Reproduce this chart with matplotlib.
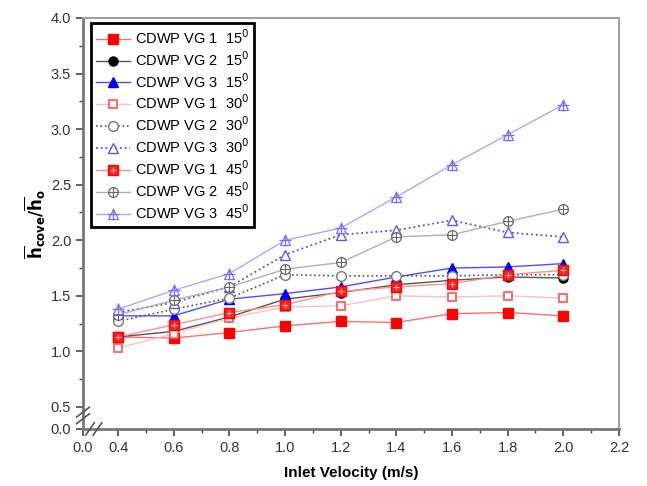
import numpy as np
import matplotlib

matplotlib.use("Agg")
import matplotlib.pyplot as plt

plt.rcParams["font.family"] = ["Liberation Sans", "DejaVu Sans"]

velocity = [0.4, 0.6, 0.8, 1.0, 1.2, 1.4, 1.6, 1.8, 2.0]

vg1_15 = [1.13, 1.12, 1.17, 1.23, 1.27, 1.26, 1.34, 1.35, 1.32]
vg2_15 = [1.13, 1.18, 1.31, 1.47, 1.53, 1.60, 1.64, 1.67, 1.66]
vg3_15 = [1.32, 1.32, 1.47, 1.52, 1.58, 1.67, 1.75, 1.76, 1.79]
vg1_30 = [1.03, 1.16, 1.30, 1.40, 1.41, 1.50, 1.49, 1.50, 1.48]
vg2_30 = [1.27, 1.38, 1.48, 1.69, 1.68, 1.68, 1.68, 1.69, 1.69]
vg3_30 = [1.35, 1.44, 1.58, 1.87, 2.05, 2.09, 2.18, 2.07, 2.03]
vg1_45 = [1.13, 1.24, 1.35, 1.42, 1.54, 1.58, 1.61, 1.69, 1.73]
vg2_45 = [1.33, 1.46, 1.58, 1.74, 1.80, 2.03, 2.05, 2.17, 2.28]
vg3_45 = [1.38, 1.55, 1.70, 2.00, 2.11, 2.39, 2.68, 2.95, 3.22]

labels = [
    "CDWP VG 1  15$^0$", "CDWP VG 2  15$^0$", "CDWP VG 3  15$^0$",
    "CDWP VG 1  30$^0$", "CDWP VG 2  30$^0$", "CDWP VG 3  30$^0$",
    "CDWP VG 1  45$^0$", "CDWP VG 2  45$^0$", "CDWP VG 3  45$^0$",
]

x_ticks = [0.0, 0.4, 0.6, 0.8, 1.0, 1.2, 1.4, 1.6, 1.8, 2.0, 2.2]
y_ticks = [0.0, 0.5, 1.0, 1.5, 2.0, 2.5, 3.0, 3.5, 4.0]


# broken axes: the 0..0.4 (x) and 0..0.5 (y) parts are squeezed
def fx(x):
    x = np.asarray(x, dtype=float)
    return np.where(x < 0.4, x * 0.315, x - 0.274)


def ix(u):
    u = np.asarray(u, dtype=float)
    return np.where(u < 0.126, u / 0.315, u + 0.274)


def fy(y):
    y = np.asarray(y, dtype=float)
    return np.where(y < 0.5, y * 0.396, y - 0.302)


def iy(u):
    u = np.asarray(u, dtype=float)
    return np.where(u < 0.198, u / 0.396, u + 0.302)


fig = plt.figure(figsize=(6.47, 4.86), dpi=100)
ax = fig.add_axes([0.1283, 0.1173, 0.8284, 0.8457])
ax.set_xscale("function", functions=(fx, ix))
ax.set_yscale("function", functions=(fy, iy))

ms = 6.5
handles = []

h, = ax.plot(velocity, vg1_15, "-", color="#ff6f6f", lw=1.0, marker="s", ms=ms,
             mfc="#ff0000", mec="#ff0000", zorder=3)
handles.append(h)
h, = ax.plot(velocity, vg2_15, "-", color="#555555", lw=1.0, marker="o", ms=ms,
             mfc="black", mec="black", zorder=3)
handles.append(h)
h, = ax.plot(velocity, vg3_15, "-", color="#4d4dff", lw=1.0, marker="^", ms=ms + 0.5,
             mfc="#0000ff", mec="#0000ff", zorder=3)
handles.append(h)
h, = ax.plot(velocity, vg1_30, "-", color="#ffc0c0", lw=1.0, marker="s", ms=ms - 0.5,
             mfc="white", mec="#ff6060", mew=1.3, zorder=3)
handles.append(h)
h, = ax.plot(velocity, vg2_30, ":", color="#555555", lw=1.2, marker="o", ms=ms + 0.5,
             mfc="white", mec="#777777", mew=1.0, zorder=3)
handles.append(h)
h, = ax.plot(velocity, vg3_30, ":", color="#4d4dff", lw=1.3, marker="^", ms=ms + 1,
             mfc="white", mec="#5a5aff", mew=1.0, zorder=3)
handles.append(h)

h1, = ax.plot(velocity, vg1_45, "-", color="#ff9090", lw=1.0, marker="s", ms=ms,
              mfc="#ff2020", mec="#ff0000", zorder=4)
h2, = ax.plot(velocity, vg1_45, "none", marker="+", ms=ms - 2.5, mec="#ffb0b0", mew=0.8, zorder=5)
handles.append((h1, h2))
h1, = ax.plot(velocity, vg2_45, "-", color="#b0b0b0", lw=1.0, marker="o", ms=ms + 0.5,
              mfc="white", mec="#666666", mew=0.9, zorder=3)
h2, = ax.plot(velocity, vg2_45, "none", marker="+", ms=ms + 0.5, mec="#666666", mew=0.8, zorder=3)
handles.append((h1, h2))
h1, = ax.plot(velocity, vg3_45, "-", color="#a8a8ff", lw=1.0, marker="^", ms=ms + 0.5,
              mfc="white", mec="#7070ff", mew=0.9, zorder=3)
h2, = ax.plot(velocity, vg3_45, "none", marker="+", ms=ms + 1.5, mec="#7070ff", mew=0.9, zorder=3)
handles.append((h1, h2))

ax.set_xlim(0.0, 2.2)
ax.set_ylim(0.0, 4.0)
ax.set_xticks(x_ticks)
ax.set_xticks(np.arange(0.5, 2.15, 0.2), minor=True)
ax.set_yticks(y_ticks)
ax.set_yticks(np.arange(0.75, 3.8, 0.5), minor=True)
ax.set_xticklabels([f"{v:.1f}" for v in x_ticks])
ax.set_yticklabels([f"{v:.1f}" for v in y_ticks])

ax.tick_params(which="both", direction="out", top=False, right=False,
               color="#444444", labelsize=10.5, labelcolor="#333333")
ax.tick_params(which="major", length=5, width=1.2)
ax.tick_params(which="minor", length=3, width=1.0)

for side in ["top", "right"]:
    ax.spines[side].set_color("#a0a0a0")
    ax.spines[side].set_linewidth(1.5)
for side in ["left", "bottom"]:
    ax.spines[side].set_color("#777777")
    ax.spines[side].set_linewidth(2.0)

# break marks on both axes
kw = dict(transform=ax.transAxes, color="#555555", lw=1.2, clip_on=False, zorder=6)
for yb in [0.025, 0.041]:
    ax.plot([-0.012, 0.012], [yb - 0.012, yb + 0.012], **kw)
for xb in [0.013, 0.027]:
    ax.plot([xb - 0.008, xb + 0.008], [-0.015, 0.015], **kw)

ax.set_xlabel("Inlet Velocity (m/s)", fontsize=11, fontweight="bold", labelpad=8)
ax.set_ylabel(r"$\mathbf{\overline{h}_{cove}/\overline{h}_o}$", fontsize=12, labelpad=2)

leg = ax.legend(handles, labels, loc="upper left", bbox_to_anchor=(0.015, 0.988),
                borderaxespad=0, fontsize=10.5, labelspacing=0.22, handlelength=2.3,
                handletextpad=0.35, borderpad=0.35, fancybox=False, framealpha=1)
leg.get_frame().set_edgecolor("black")
leg.get_frame().set_linewidth(2.0)

fig.savefig("out.png", dpi=100)
